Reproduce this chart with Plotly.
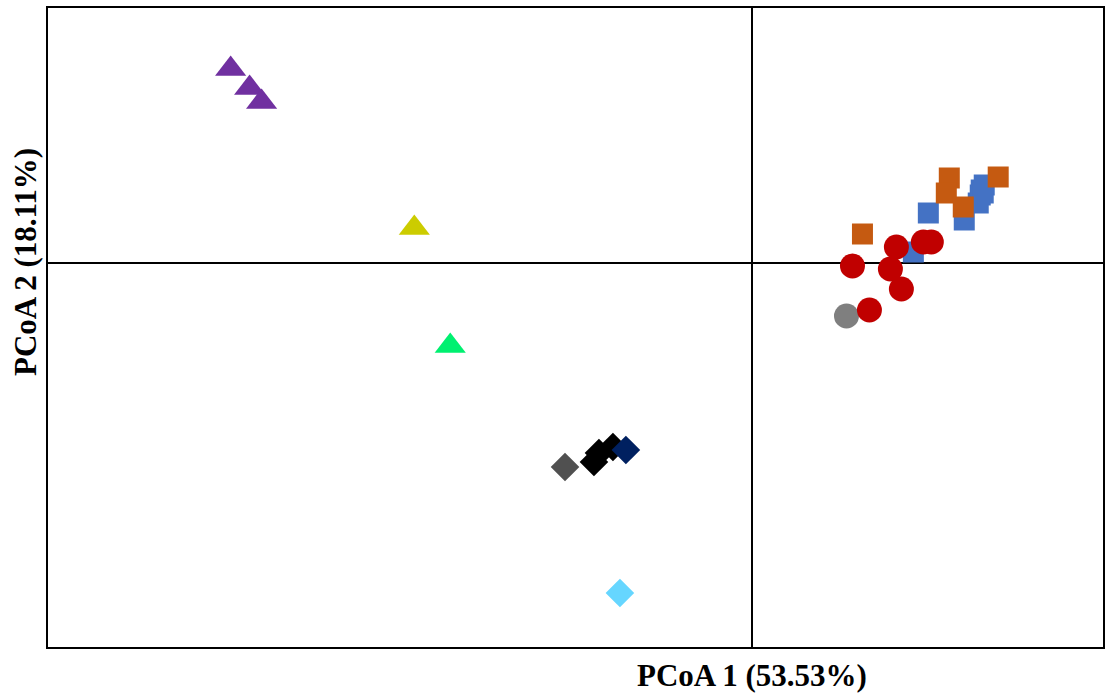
import plotly.graph_objects as go

# PCoA coordinates (arbitrary units)
purple_x = [-5.22, -5.03, -4.91]
purple_y = [1.94, 1.75, 1.61]
yellow_x = [-3.38]
yellow_y = [0.35]
green_x = [-3.02]
green_y = [-0.83]

gray_dia_x = [-1.87]
gray_dia_y = [-2.04]
black_dia_x = [-1.58, -1.53, -1.39]
black_dia_y = [-1.99, -1.90, -1.84]
navy_dia_x = [-1.26]
navy_dia_y = [-1.87]
lightblue_dia_x = [-1.32]
lightblue_dia_y = [-3.30]

blue_sq_x = [1.62, 1.77, 2.13, 2.27, 2.29, 2.30, 2.33, 2.32]
blue_sq_y = [0.11, 0.50, 0.43, 0.60, 0.68, 0.73, 0.78, 0.70]
orange_sq_x = [1.11, 1.98, 1.95, 2.12, 2.47]
orange_sq_y = [0.29, 0.85, 0.70, 0.56, 0.86]

gray_circ_x = [0.95]
gray_circ_y = [-0.53]
red_circ_x = [1.01, 1.45, 1.72, 1.80, 1.39, 1.50, 1.18]
red_circ_y = [-0.03, 0.16, 0.21, 0.21, -0.06, -0.26, -0.47]

fig = go.Figure()

def add(x, y, color, symbol, size):
    fig.add_trace(go.Scatter(
        x=x, y=y, mode="markers",
        marker=dict(color=color, symbol=symbol, size=size,
                    line=dict(width=0)),
        showlegend=False, hoverinfo="skip"))

add(blue_sq_x, blue_sq_y, "#4472C4", "square", 21)
add(orange_sq_x, orange_sq_y, "#C55A11", "square", 21)
add(gray_circ_x, gray_circ_y, "#7F7F7F", "circle", 25)
add(red_circ_x, red_circ_y, "#C00000", "circle", 25)
add(purple_x, purple_y, "#7030A0", "triangle-up", 27)
add(yellow_x, yellow_y, "#CCCC00", "triangle-up", 27)
add(green_x, green_y, "#00F070", "triangle-up", 27)
add(gray_dia_x, gray_dia_y, "#505050", "diamond", 22)
add(black_dia_x, black_dia_y, "#000000", "diamond", 22)
add(navy_dia_x, navy_dia_y, "#002060", "diamond", 22)
add(lightblue_dia_x, lightblue_dia_y, "#66D6FF", "diamond", 22)

axis_common = dict(
    showgrid=False, showticklabels=False, ticks="",
    zeroline=True, zerolinecolor="black", zerolinewidth=1.5,
    showline=True, linecolor="black", linewidth=2, mirror=True,
)

title_font = dict(family="Liberation Serif, Times New Roman, serif", size=31, color="black")

fig.update_layout(
    width=1106, height=693,
    margin=dict(l=48, r=1, t=8, b=46),
    paper_bgcolor="white", plot_bgcolor="white",
    xaxis=dict(range=[-7.05, 3.52], **axis_common),
    yaxis=dict(range=[-3.84, 2.55], **axis_common),
    annotations=[
        dict(text="<b>PCoA 1 (53.53%)</b>", x=0, xref="x", y=0, yref="paper",
             yshift=-28, yanchor="middle", xanchor="center", showarrow=False,
             font=title_font),
        dict(text="<b>PCoA 2 (18.11%)</b>", y=0.01, yref="y", x=0, xref="paper",
             xshift=-23, xanchor="center", yanchor="middle", textangle=-90, showarrow=False,
             font=title_font),
    ],
)

fig.write_html("out.html", config={"displayModeBar": False},
               post_script="document.body.style.margin='0';document.body.style.overflow='hidden';")
